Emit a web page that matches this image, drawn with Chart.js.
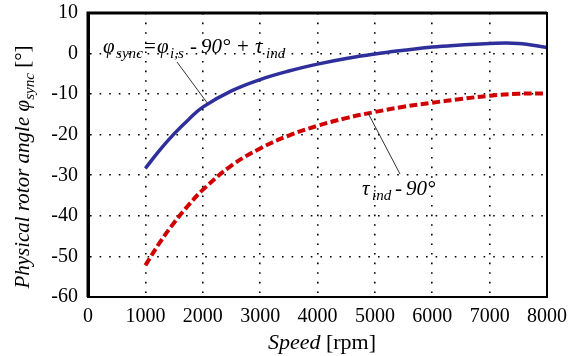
<!DOCTYPE html>
<html>
<head>
<meta charset="utf-8">
<script src="https://cdn.jsdelivr.net/npm/chart.js@4"></script>
<style>
  html, body { margin: 0; padding: 0; background: #fff; }
  #wrap { width: 578px; height: 356px; }
</style>
</head>
<body>
<div id="wrap"><canvas id="chart"></canvas></div>
<script>
// speed in rpm
const speeds = [1000, 1250, 1500, 1750, 2000, 2500, 3000, 3500, 4000, 4500, 5000, 5500, 6000, 6500, 7000, 7500, 8000];
// phi_sync = phi_i,s - 90 + tau_ind
const phiSync = [-28.3, -23.8, -19.8, -16.3, -13.2, -9.2, -6.4, -4.3, -2.6, -1.2, -0.1, 0.8, 1.6, 2.1, 2.5, 2.5, 1.5];
// tau_ind - 90
const tauMinus90 = [-52.2, -46.6, -41.7, -37.4, -33.6, -27.6, -23.4, -20.2, -17.8, -15.9, -14.4, -13.1, -12.1, -11.2, -10.4, -9.9, -9.8];

const xTicks = [0, 1000, 2000, 3000, 4000, 5000, 6000, 7000, 8000];
const yTicks = [10, 0, -10, -20, -30, -40, -50, -60];

const SERIF = '"Liberation Serif", "Times New Roman", serif';

// pieces: [text, x, italic, sub]
function drawPieces(ctx, y, size, pieces) {
    pieces.forEach(p => {
        const fs = p[3] ? size * 0.72 : size;
        ctx.font = (p[2] ? 'italic ' : '') + fs + 'px ' + SERIF;
        ctx.fillText(p[0], p[1], p[3] ? y + size * 0.22 : y);
    });
}
// run of text pieces: [text, italic, sub]
function drawRich(ctx, x, y, parts, size) {
    parts.forEach(p => {
        const fs = p[2] ? size * 0.72 : size;
        ctx.font = (p[1] ? 'italic ' : '') + fs + 'px ' + SERIF;
        ctx.fillText(p[0], x, p[2] ? y + size * 0.25 : y);
        x += ctx.measureText(p[0]).width;
    });
    return x;
}
function richWidth(ctx, parts, size) {
    let w = 0;
    parts.forEach(p => {
        const fs = p[2] ? size * 0.72 : size;
        ctx.font = (p[1] ? 'italic ' : '') + fs + 'px ' + SERIF;
        w += ctx.measureText(p[0]).width;
    });
    return w;
}

const decorations = {
    id: 'decorations',
    afterDatasetsDraw(chart) {
        const ctx = chart.ctx;
        const a = chart.chartArea;
        ctx.save();
        // frame
        ctx.strokeStyle = '#000';
        ctx.lineWidth = 2;
        ctx.strokeRect(a.left, a.top, a.right - a.left, a.bottom - a.top);
        ctx.lineWidth = 3;
        ctx.beginPath();
        ctx.moveTo(a.left, a.bottom);
        ctx.lineTo(a.left, a.top);
        ctx.lineTo(a.right, a.top);
        ctx.stroke();

        // leader lines
        ctx.strokeStyle = '#333';
        ctx.lineWidth = 1;
        ctx.beginPath();
        ctx.moveTo(177, 62); ctx.lineTo(208, 104);
        ctx.moveTo(368, 113); ctx.lineTo(400, 174);
        ctx.stroke();

        // annotations
        ctx.fillStyle = '#000';
        ctx.textBaseline = 'alphabetic';
        ctx.textAlign = 'left';
        drawPieces(ctx, 53, 21, [
            ['\u03c6', 103, true], ['sync', 116, true, true], ['=', 144, false],
            ['\u03c6', 157, true], ['i,s', 170, true, true], ['-', 190, true],
            ['90\u00b0', 201, true], ['+', 237, false], ['\u03c4', 255, true], ['ind', 266, true, true]
        ]);
        drawPieces(ctx, 195, 21, [
            ['\u03c4', 362, true], ['ind', 372, true, true], ['-', 395, true], ['90\u00b0', 406, true]
        ]);

        // x axis title
        const xParts = [['Speed', true], [' [rpm]', false]];
        const xw = richWidth(ctx, xParts, 22);
        drawRich(ctx, 322 - xw / 2, 349, xParts, 22);

        // y axis title
        const yParts = [['Physical rotor angle \u03c6', true], ['sync', true, true], [' [\u00b0]', false]];
        const yw = richWidth(ctx, yParts, 21);
        ctx.translate(29, 167);
        ctx.rotate(-Math.PI / 2);
        drawRich(ctx, -yw / 2, 0, yParts, 21);
        ctx.restore();
    }
};

const ctx = document.getElementById('chart').getContext('2d');
new Chart(ctx, {
    type: 'line',
    data: {
        labels: speeds,
        datasets: [
            {
                label: 'phi_sync',
                data: speeds.map((s, i) => ({x: s, y: phiSync[i]})),
                borderColor: '#2f2f9c',
                borderWidth: 3.5,
                pointRadius: 0,
                tension: 0.4,
                fill: false
            },
            {
                label: 'tau_ind - 90',
                data: speeds.map((s, i) => ({x: s, y: tauMinus90[i]})),
                borderColor: '#d00000',
                borderWidth: 4,
                borderDash: [8, 3.5],
                pointRadius: 0,
                tension: 0.4,
                fill: false
            }
        ]
    },
    options: {
        responsive: true,
        maintainAspectRatio: false,
        animation: false,
        devicePixelRatio: 1,
        layout: { padding: { top: 13, right: 31, left: 0, bottom: 0 } },
        plugins: {
            legend: { display: false },
            tooltip: { enabled: false }
        },
        scales: {
            x: {
                type: 'linear',
                min: 0,
                max: 8000,
                afterFit: s => { s.height = 59; },
                afterBuildTicks: s => { s.ticks = xTicks.map(v => ({value: v})); },
                grid: { color: '#000', lineWidth: 1.6, drawTicks: false },
                border: { display: true, color: '#000', width: 2, dash: [1.6, 8] },
                ticks: {
                    color: '#000',
                    padding: 8,
                    maxRotation: 0,
                    callback: v => String(v),
                    font: { family: SERIF, size: 20 }
                }
            },
            y: {
                min: -60,
                max: 10,
                afterFit: s => { s.width = 88; s.paddingTop = 0; s.paddingBottom = 0; },
                afterBuildTicks: s => { s.ticks = yTicks.map(v => ({value: v})); },
                grid: { color: '#000', lineWidth: 1.6, drawTicks: false },
                border: { display: true, color: '#000', width: 3, dash: [1.6, 8] },
                ticks: {
                    color: '#000',
                    padding: 10,
                    callback: v => String(v),
                    font: { family: SERIF, size: 20 }
                }
            }
        }
    },
    plugins: [decorations]
});
</script>
</body>
</html>
